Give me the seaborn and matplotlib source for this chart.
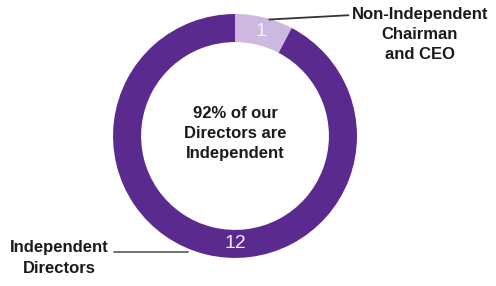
import numpy as np
import matplotlib.pyplot as plt
import seaborn as sns

sns.set_theme(style="white")
plt.rcParams['font.family'] = ['Liberation Sans', 'DejaVu Sans']

# board composition
categories = ['Non-Independent\nChairman\nand CEO', 'Independent\nDirectors']
counts = [1, 12]
colors = ['#cdb8e0', '#5a2a8e']
center_text = '92% of our\nDirectors are\nIndependent'

fig = plt.figure(figsize=(4.96, 2.86), dpi=100)
ax = fig.add_axes([0, 0, 1, 1])

R = 1.0
width = 0.23
wedges, _ = ax.pie(counts, colors=colors, startangle=90, counterclock=False,
                   radius=R, center=(0, 0), frame=True,
                   wedgeprops=dict(width=width, edgecolor='none'))
ax.set_xlim(-1.926, 2.139)
ax.set_ylim(-1.230, 1.115)
ax.set_aspect('equal')
ax.axis('off')

# numbers inside the ring: small slice at its middle, big one at the bottom
w = wedges[0]
label_angles = [(w.theta1 + w.theta2) / 2, -90]
for ang, n in zip(label_angles, counts):
    a = np.deg2rad(ang)
    r = R - width / 2
    ax.text(r * np.cos(a), r * np.sin(a), str(n), ha='center', va='center',
            color='#f3eef8', fontsize=14)

ax.text(0.0, 0.02, center_text, ha='center', va='center', fontsize=12,
        fontweight='bold', color='#1a1a1a', linespacing=1.45)

# leader lines and labels
ax.plot([0.28, 0.93], [0.955, 0.99], color='#333333', lw=1.3)
ax.text(1.516, 0.83, categories[0], ha='center', va='center', fontsize=12,
        fontweight='bold', color='#1a1a1a', linespacing=1.4)
ax.plot([-0.99, -0.385], [-0.95, -0.95], color='#666666', lw=1.3)
ax.text(-1.443, -1.0, categories[1], ha='center', va='center', fontsize=12,
        fontweight='bold', color='#1a1a1a', linespacing=1.5)

fig.savefig('out.png', dpi=100)
